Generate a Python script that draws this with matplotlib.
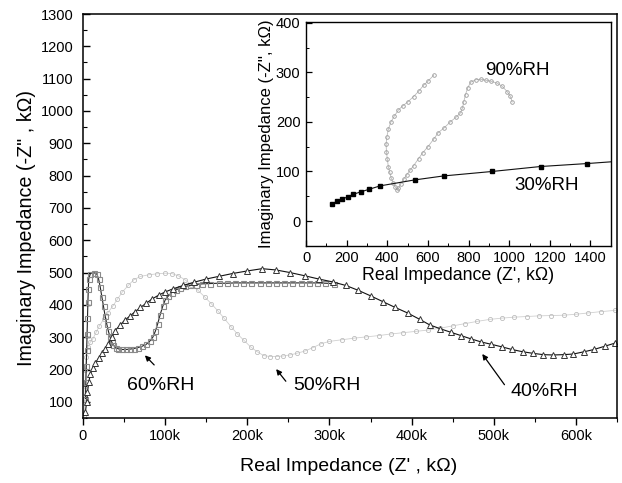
import numpy as np
import matplotlib
matplotlib.use("Agg")
import matplotlib.pyplot as plt
from matplotlib.ticker import MultipleLocator, FuncFormatter

plt.rcParams["font.family"] = ["Liberation Sans", "DejaVu Sans"]

# --- main plot data (Z' in ohm*1e3 -> shown as k) ---
rh40_x = [3e3, 4.5e3, 5.5e3, 7e3, 9e3, 12e3, 15e3, 19e3, 23e3, 27e3, 31e3, 35e3, 39e3, 45e3, 51e3,
          57e3, 63e3, 70e3, 77e3, 84e3, 92e3, 100e3, 110e3, 122e3, 135e3, 150e3, 165e3, 182e3, 200e3,
          218e3, 235e3, 252e3, 270e3, 287e3, 304e3, 320e3, 335e3, 350e3, 365e3, 380e3, 395e3, 410e3,
          422e3, 435e3, 448e3, 460e3, 472e3, 485e3, 497e3, 510e3, 522e3, 535e3, 548e3, 560e3, 572e3,
          585e3, 597e3, 610e3, 622e3, 635e3, 648e3]
rh40_y = [70, 100, 130, 160, 185, 205, 220, 235, 250, 265, 280, 300, 320, 337, 353,
          365, 378, 392, 405, 418, 430, 440, 450, 460, 470, 480, 488, 497, 505,
          512, 508, 500, 490, 480, 471, 460, 445, 428, 410, 392, 375, 355,
          338, 326, 315, 305, 295, 285, 278, 270, 262, 255, 250, 246, 245,
          246, 248, 255, 262, 272, 282]

rh60_x = [3e3, 3.5e3, 4e3, 4.5e3, 5e3, 5.5e3, 6e3, 6.5e3, 7e3, 9e3, 13e3, 17e3, 19e3, 21e3, 23e3,
          25e3, 27e3, 29e3, 31e3, 33e3, 35e3, 37e3, 40e3, 43e3, 47e3, 52e3, 57e3, 62e3, 67e3, 72e3,
          77e3, 81e3, 85e3, 88e3, 91e3, 94e3, 97e3, 100e3, 104e3, 108e3, 113e3, 118e3, 124e3, 130e3,
          137e3, 145e3, 155e3, 165e3, 175e3, 185e3, 195e3, 205e3, 215e3, 225e3, 235e3, 245e3, 255e3,
          265e3, 275e3, 285e3, 295e3, 305e3]
rh60_y = [110, 160, 210, 260, 310, 360, 410, 450, 480, 497, 500, 495, 480, 455, 425,
          395, 365, 340, 318, 300, 285, 275, 268, 264, 262, 262, 263, 265, 268, 272,
          278, 287, 300, 318, 342, 370, 395, 415, 428, 438, 446, 452, 457, 460,
          463, 465, 466, 467, 467, 468, 468, 468, 468, 468, 468, 468, 468,
          468, 468, 468, 467, 466]

rh50_x = [1.5e3, 2e3, 2.5e3, 3e3, 4e3, 6e3, 9e3, 12e3, 16e3, 20e3, 25e3, 30e3, 36e3, 42e3, 48e3,
          55e3, 62e3, 70e3, 80e3, 90e3, 100e3, 108e3, 116e3, 124e3, 132e3, 140e3, 148e3, 156e3,
          164e3, 172e3, 180e3, 188e3, 196e3, 204e3, 212e3, 220e3, 228e3, 236e3, 244e3, 252e3,
          260e3, 270e3, 280e3, 290e3, 300e3, 315e3, 330e3, 345e3, 360e3, 375e3, 390e3, 405e3,
          420e3, 435e3, 450e3, 465e3, 480e3, 495e3, 510e3, 525e3, 540e3, 555e3, 570e3, 585e3,
          600e3, 615e3, 630e3, 648e3]
rh50_y = [55, 100, 150, 200, 240, 270, 285, 295, 315, 335, 355, 375, 395, 418, 440,
          460, 478, 488, 493, 496, 498, 497, 490, 478, 462, 445, 425, 404,
          382, 358, 333, 310, 290, 270, 255, 243, 240, 240, 242, 245,
          250, 257, 268, 280, 287, 292, 297, 301, 305, 310, 314, 318,
          322, 328, 335, 342, 349, 355, 359, 362, 364, 366, 367, 368,
          371, 375, 379, 383]

# --- inset data (k ohm) ---
rh30_x = [130, 150, 178, 205, 233, 270, 310, 365, 535, 677, 916, 1154, 1384, 1620]
rh30_y = [34, 40, 44, 49, 54, 59, 64, 71, 83, 91, 100, 110, 116, 123]

rh90_x = [628, 600, 579, 555, 529, 500, 475, 455, 435, 418, 405, 398, 394, 396, 400, 405, 412, 420,
          430, 440, 447, 455, 465, 480, 495, 513, 530, 554, 575, 600, 628, 650, 680, 710, 740, 760,
          770, 776, 785, 795, 810, 835, 860, 885, 910, 941, 965, 990, 1005, 1015]
rh90_y = [294, 282, 274, 262, 251, 240, 232, 224, 212, 200, 185, 170, 155, 140, 125, 110, 98, 86,
          76, 68, 63, 66, 74, 84, 93, 103, 112, 126, 138, 150, 165, 178, 188, 200, 210, 218,
          228, 240, 255, 268, 280, 285, 286, 284, 282, 278, 272, 261, 252, 240]

fig = plt.figure(figsize=(6.22, 4.83), dpi=100)
ax = fig.add_axes([0.1334, 0.1346, 0.8586, 0.8364])

ax.plot(rh50_x, rh50_y, color="#d0d0d0", lw=0.6, marker="o", ms=3, mfc="none",
        mec="#bdbdbd", mew=0.6)
ax.plot(rh60_x, rh60_y, color="#222222", lw=0.8, marker="s", ms=3.6, mfc="none",
        mec="#8a8a8a", mew=0.8)
ax.plot(rh40_x, rh40_y, color="#111111", lw=0.8, marker="^", ms=4.2, mfc="white",
        mec="#333333", mew=0.7)

ax.set_xlim(0, 650e3)
ax.set_ylim(50, 1300)
ax.xaxis.set_major_locator(MultipleLocator(100e3))
ax.xaxis.set_minor_locator(MultipleLocator(50e3))
ax.yaxis.set_major_locator(MultipleLocator(100))
ax.yaxis.set_minor_locator(MultipleLocator(50))
ax.xaxis.set_major_formatter(FuncFormatter(lambda v, p: "0" if v == 0 else f"{v/1e3:.0f}k"))
ax.set_yticks(np.arange(100, 1301, 100))
ax.tick_params(axis="x", which="major", direction="out", length=5, width=1, labelsize=10.5, pad=3)
ax.tick_params(axis="x", which="minor", direction="out", length=3, width=0.8)
ax.tick_params(axis="y", which="major", direction="in", length=5, width=1, labelsize=10.5, pad=7)
ax.tick_params(axis="y", which="minor", direction="in", length=3, width=0.8)
for s in ax.spines.values():
    s.set_linewidth(1.1)
ax.set_xlabel("Real Impedance (Z' , k\u03a9)", fontsize=14)
ax.set_ylabel("Imaginary Impedance (-Z\" , k\u03a9)", fontsize=14.2)
ax.xaxis.set_label_coords(0.498, -0.098)
ax.yaxis.set_label_coords(-0.088, 0.47)

arrow = dict(arrowstyle="-|>", color="black", lw=0.9, mutation_scale=8)
ax.annotate("", xy=(73e3, 250), xytext=(89e3, 208), arrowprops=arrow)
ax.text(95e3, 152, "60%RH", fontsize=14, ha="center", va="center")
ax.annotate("", xy=(233e3, 208), xytext=(249e3, 157), arrowprops=arrow)
ax.text(297e3, 152, "50%RH", fontsize=14, ha="center", va="center")
ax.annotate("", xy=(484e3, 255), xytext=(515e3, 146), arrowprops=arrow)
ax.text(561e3, 131, "40%RH", fontsize=14, ha="center", va="center")

# inset
ins = fig.add_axes([0.492, 0.491, 0.490, 0.464])
ins.plot(rh90_x, rh90_y, color="#bbbbbb", lw=0.6, marker="o", ms=2.6, mfc="none",
         mec="#9a9a9a", mew=0.6)
ins.plot(rh30_x, rh30_y, color="#111111", lw=0.8, marker="s", ms=3.4, mfc="black",
         mec="black")
ins.set_xlim(0, 1500)
ins.set_ylim(-50, 402)
ins.xaxis.set_major_locator(MultipleLocator(200))
ins.xaxis.set_minor_locator(MultipleLocator(100))
ins.set_yticks([0, 100, 200, 300, 400])
ins.yaxis.set_minor_locator(MultipleLocator(50))
ins.tick_params(which="major", direction="in", length=4, width=0.9, labelsize=10.5, pad=4)
ins.tick_params(which="minor", direction="in", length=2, width=0.7)
for s in ins.spines.values():
    s.set_linewidth(1.0)
ins.set_xlabel("Real Impedance (Z', k\u03a9)", fontsize=12.8, labelpad=1)
ins.set_ylabel("Imaginary Impedance (-Z'', k\u03a9)", fontsize=12, labelpad=1)
ins.text(1040, 304, "90%RH", fontsize=13.5, ha="center", va="center")
ins.text(1183, 72, "30%RH", fontsize=13.5, ha="center", va="center")

fig.savefig("out.png", dpi=100)
